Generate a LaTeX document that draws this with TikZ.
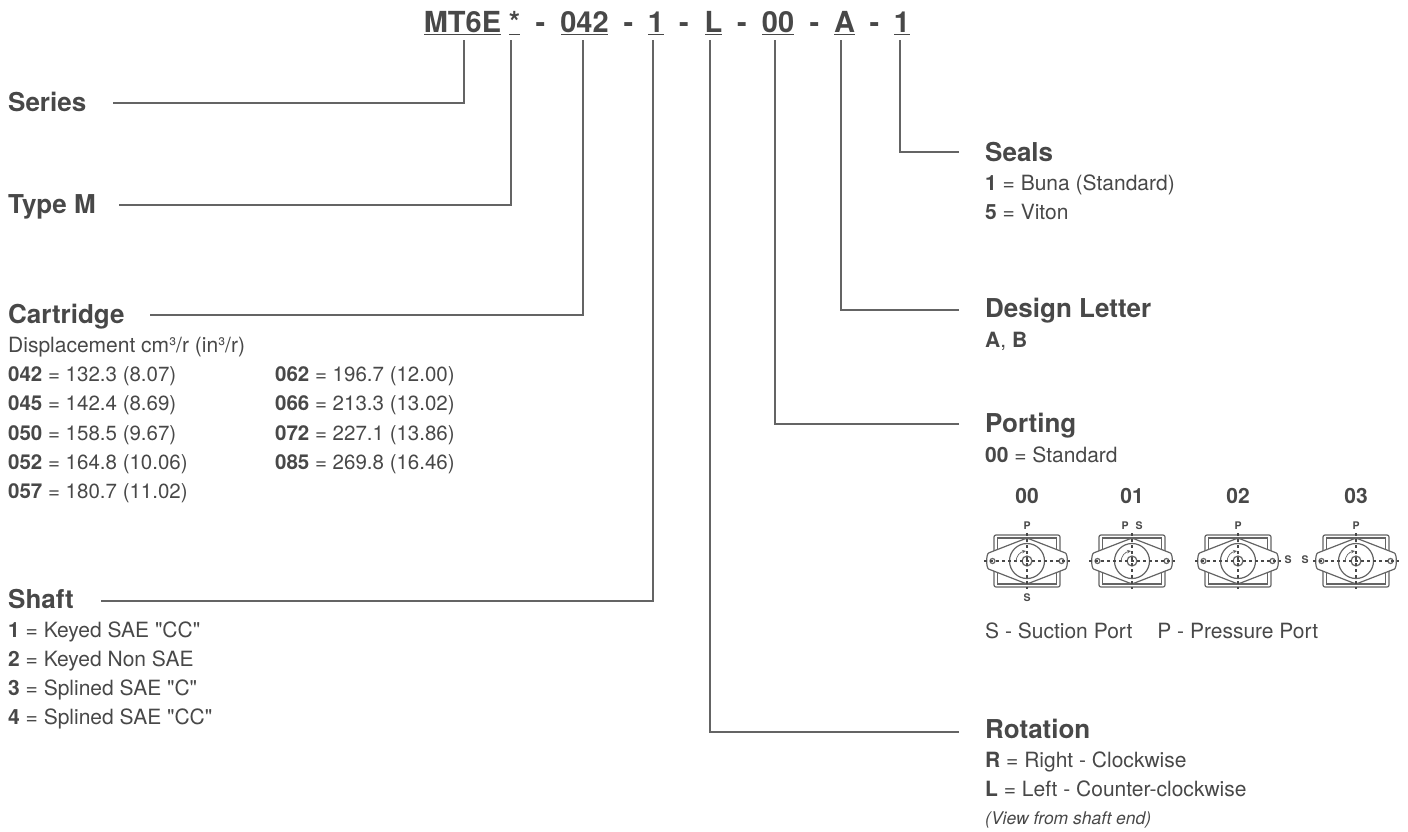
\documentclass[tikz,border=0pt]{standalone}
\usepackage{fontspec}
\setmainfont{TeX Gyre Heros}[Ligatures=TeXOff]
\usetikzlibrary{arrows.meta}
\definecolor{ink}{RGB}{72,72,72}
\definecolor{wire}{RGB}{100,100,100}
\tikzset{
    code/.style={anchor=base, inner sep=0pt, text=ink, font=\fontsize{29}{32}\selectfont\bfseries},
    head/.style={anchor=base west, inner sep=0pt, text=ink, font=\fontsize{26}{30}\selectfont\bfseries},
    body/.style={anchor=base west, inner sep=0pt, text=ink, font=\fontsize{21}{25}\selectfont},
    data/.style={anchor=base west, inner sep=0pt, text=ink, font=\fontsize{20.5}{25}\selectfont},
    note/.style={anchor=base west, inner sep=0pt, text=ink, font=\fontsize{17.5}{20}\selectfont\itshape},
    plug/.style={anchor=base, inner sep=0pt, text=ink, font=\fontsize{21}{25}\selectfont\bfseries},
    tag/.style={inner sep=0pt, text=ink, font=\fontsize{10.5}{12}\selectfont\bfseries},
    leader/.style={draw=wire, line width=1.1pt},
    uline/.style={draw=ink, line width=1.3pt},
    part/.style={draw=wire, line width=1.2pt},
    axis/.style={draw=ink, line width=1.1pt, dash pattern=on 3pt off 3pt},
    portfig/.pic={
        \draw[part, rounded corners=2pt] (-33,-26) rectangle (33,26);
        \draw[part] (-29.5,-23) rectangle (29.5,23);
        \draw[part, fill=white, rounded corners=2.5pt] (0,-23) -- (36,-9) .. controls (41,-7) and (41,7) .. (36,9) -- (0,23) -- (-36,9) .. controls (-41,7) and (-41,-7) .. (-36,-9) -- cycle;
        \draw[part] (0,0) circle (17.5);
        \draw[part] (0,0) circle (5);
        \draw[part] (-34.5,0) circle (2.5);
        \draw[part] (34.5,0) circle (2.5);
        \draw[axis] (-43,0) -- (43,0);
        \draw[axis] (0,-28) -- (0,28);
        \draw[draw=wire, line width=0.7pt, -{Stealth[length=4pt,width=3.5pt]}] (-11,1) .. controls (-11,-5) and (-7,-9) .. (-1,-10);
    }
}
\begin{document}
\begin{tikzpicture}[x=1pt, y=-1pt]
    \useasboundingbox (0,0) rectangle (1408,831);

    \foreach \nm/\x/\lft/\rgt/\txt in {mt/462.5/424/501/MT6E, star/514.5/509/520/*, cart/584.5/561/608/042, shaft/656/648/664/1, rot/713.5/705/722/L, port/778/762/794/00, des/844.5/834/855/A, seal/902/894/910/1} {
        \node[code] (\nm) at (\x,32) {\txt};
        \draw[uline] (\lft,34.5) -- (\rgt,34.5);
    }
    \foreach \nm/\x in {da/540.5, db/628.5, dc/684, dd/742, de/814.5, df/874.5} {
        \node[code] (\nm) at (\x,32) {-};
    }

    \coordinate (topseries) at (464,40);
    \coordinate (toptype) at (511,40);
    \coordinate (topcart) at (583,40);
    \coordinate (topshaft) at (653,40);
    \coordinate (toprot) at (710,40);
    \coordinate (topport) at (775,40);
    \coordinate (topdes) at (841,40);
    \coordinate (topseal) at (900,40);

    \node[head] (series) at (8,111) {Series};
    \node[head] (typem) at (8,213) {Type M};
    \node[head] (cartridge) at (8,323) {Cartridge};
    \node[head] (shafthead) at (8,608) {Shaft};
    \node[head] (seals) at (985,161) {Seals};
    \node[head] (design) at (985,317.5) {Design Letter};
    \node[head] (porting) at (985,432) {Porting};
    \node[head] (rotation) at (985,738) {Rotation};

    \coordinate (endseries) at (113,103);
    \coordinate (endtype) at (119,205);
    \coordinate (endcart) at (150,315);
    \coordinate (endshaft) at (101,601);
    \coordinate (endseal) at (959,152);
    \coordinate (enddes) at (959,310);
    \coordinate (endport) at (959,424);
    \coordinate (endrot) at (959,732);

    \draw[leader] (endseries) -| (topseries);
    \draw[leader] (endtype) -| (toptype);
    \draw[leader] (endcart) -| (topcart);
    \draw[leader] (endshaft) -| (topshaft);
    \draw[leader] (endseal) -| (topseal);
    \draw[leader] (enddes) -| (topdes);
    \draw[leader] (endport) -| (topport);
    \draw[leader] (endrot) -| (toprot);

    \node[body] (disp) at (8,352) {Displacement cm³/r (in³/r)};
    \foreach \nm/\x/\y/\k/\v in {
        ca/8/381/042/132.3 (8.07), cb/8/410/045/142.4 (8.69), cc/8/440/050/158.5 (9.67), cd/8/469/052/164.8 (10.06), ce/8/498/057/180.7 (11.02),
        cf/275/381/062/196.7 (12.00), cg/275/410/066/213.3 (13.02), ch/275/440/072/227.1 (13.86), ci/275/469/085/269.8 (16.46)} {
        \node[data] (\nm) at (\x,\y) {\textbf{\k} = \v};
    }
    \foreach \nm/\x/\y/\k/\v in {
        sa/8/637/1/Keyed SAE "CC", sb/8/666/2/Keyed Non SAE, sc/8/695/3/Splined SAE "C", sd/8/724/4/Splined SAE "CC",
        la/985/190.5/1/Buna (Standard), lb/985/219/5/Viton, pa/985/462/00/Standard,
        ra/985/767/R/Right - Clockwise, rb/985/796/L/Left - Counter-clockwise} {
        \node[body] (\nm) at (\x,\y) {\textbf{\k} = \v};
    }
    \node[body] (letters) at (985,347) {\textbf{A}, \textbf{B}};
    \node[note] (view) at (985,824) {(View from shaft end)};
    \node[body] (legend) at (985,638) {S - Suction Port\hspace{25pt}P - Pressure Port};

    \foreach \nm/\x/\txt in {pza/1027/00, pzb/1132/01, pzc/1238/02, pzd/1356/03} {
        \node[plug] (\nm) at (\x,503) {\txt};
        \pic (fig\nm) at (\x,561) {portfig};
    }

    \node[tag] (pone) at (1027,526) {P};
    \node[tag] (sone) at (1027,598) {S};
    \node[tag] (ptwo) at (1125,526) {P};
    \node[tag] (stwo) at (1139,526) {S};
    \node[tag] (pthree) at (1238,526) {P};
    \node[tag] (sthree) at (1288,560) {S};
    \node[tag] (pfour) at (1356,526) {P};
    \node[tag] (sfour) at (1305,560) {S};
\end{tikzpicture}
\end{document}
